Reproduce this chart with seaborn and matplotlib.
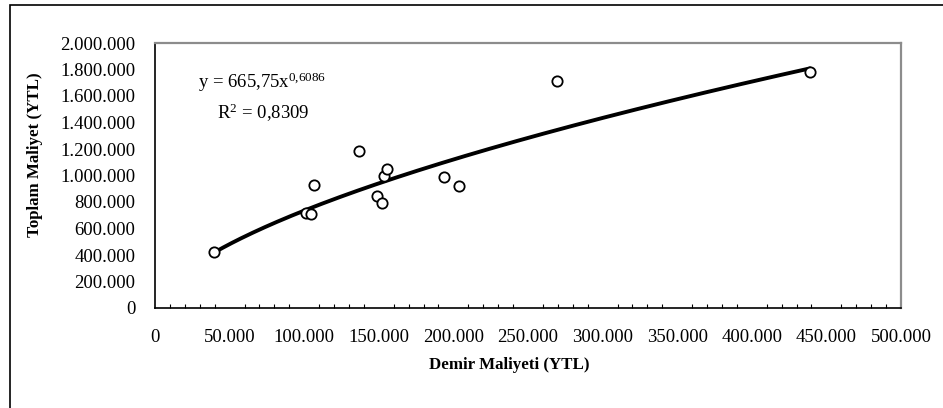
import matplotlib
matplotlib.use("Agg")
import matplotlib.pyplot as plt
import seaborn as sns
import numpy as np
import pandas as pd
from matplotlib.ticker import MultipleLocator, FuncFormatter
from matplotlib.patches import Rectangle

# data
demir = [39500, 101000, 104400, 106400, 136500, 149000, 152400, 153300,
         155500, 193500, 203500, 269400, 439000]
toplam = [422000, 715000, 707000, 926000, 1183000, 845000, 790000, 994000,
          1047000, 991000, 923000, 1713000, 1779000]

# power trendline as printed on the chart
coef_a = 665.75
coef_b = 0.6086
r_kare = "0,8309"

df = pd.DataFrame({"Demir": demir, "Toplam": toplam})

sns.set_theme(style="white")
plt.rcParams["font.family"] = ["Liberation Serif", "DejaVu Serif"]
plt.rcParams["mathtext.fontset"] = "custom"
plt.rcParams["mathtext.rm"] = "Liberation Serif"
plt.rcParams["mathtext.it"] = "Liberation Serif:italic"
plt.rcParams["mathtext.default"] = "regular"

fig = plt.figure(figsize=(9.43, 4.08), dpi=100)
ax = fig.add_axes([155 / 943, 1 - 308 / 408, 746 / 943, 265 / 408])

# outer chart frame (cut off at the right and bottom edge)
fig.patches.append(Rectangle((10 / 943, -0.1), 1.2, (408 - 5) / 408 + 0.1,
                             transform=fig.transFigure, fill=False,
                             edgecolor="black", linewidth=1.2))

# trendline
tx = np.linspace(min(demir), max(demir), 200)
ty = coef_a * tx ** coef_b
ax.plot(tx, ty, color="black", linewidth=2.8, zorder=2)

sns.scatterplot(data=df, x="Demir", y="Toplam", ax=ax, marker="o",
                facecolor="white", edgecolor="black", linewidth=1.3,
                s=55, zorder=3)

ax.set_xlim(0, 500000)
ax.set_ylim(0, 2000000)
ax.xaxis.set_major_locator(MultipleLocator(50000))
ax.xaxis.set_minor_locator(MultipleLocator(10000))
ax.yaxis.set_major_locator(MultipleLocator(200000))

dot_fmt = FuncFormatter(lambda v, p: f"{int(round(v)):,}".replace(",", "."))
ax.xaxis.set_major_formatter(dot_fmt)
ax.yaxis.set_major_formatter(dot_fmt)

for side in ["left", "bottom"]:
    ax.spines[side].set_color("black")
    ax.spines[side].set_linewidth(1.2)
for side in ["top", "right"]:
    ax.spines[side].set_color("#8c8c8c")
    ax.spines[side].set_linewidth(1.6)

ax.tick_params(axis="x", which="major", direction="out", length=5, width=1,
               color="black", labelsize=13.5, pad=10, labelcolor="black")
ax.tick_params(axis="x", which="minor", direction="in", length=3, width=0.8,
               color="black", bottom=True)
ax.tick_params(axis="y", which="major", direction="out", length=5, width=1,
               color="black", labelsize=13.5, pad=9, labelcolor="black")

ax.set_xlabel("Demir Maliyeti (YTL)", fontsize=12.2, fontweight="bold",
              color="black")
ax.set_ylabel("Toplam Maliyet (YTL)", fontsize=12.2, fontweight="bold",
              color="black")
ax.xaxis.set_label_coords((509 - 155) / 746, (308 - 357) / 265)
ax.yaxis.set_label_coords((43 - 155) / 746, (308 - 155) / 265)

# equation and R-squared
ax.text((198 - 155) / 746, (308 - 88) / 265,
        "y = 665,75x$^{0{,}6086}$",
        transform=ax.transAxes, fontsize=13.5, color="black",
        ha="left", va="baseline")
ax.text((217 - 155) / 746, (308 - 119) / 265,
        "R$^{2}$ = " + r_kare,
        transform=ax.transAxes, fontsize=13.5, color="black",
        ha="left", va="baseline")

fig.savefig("out.png", dpi=100)
